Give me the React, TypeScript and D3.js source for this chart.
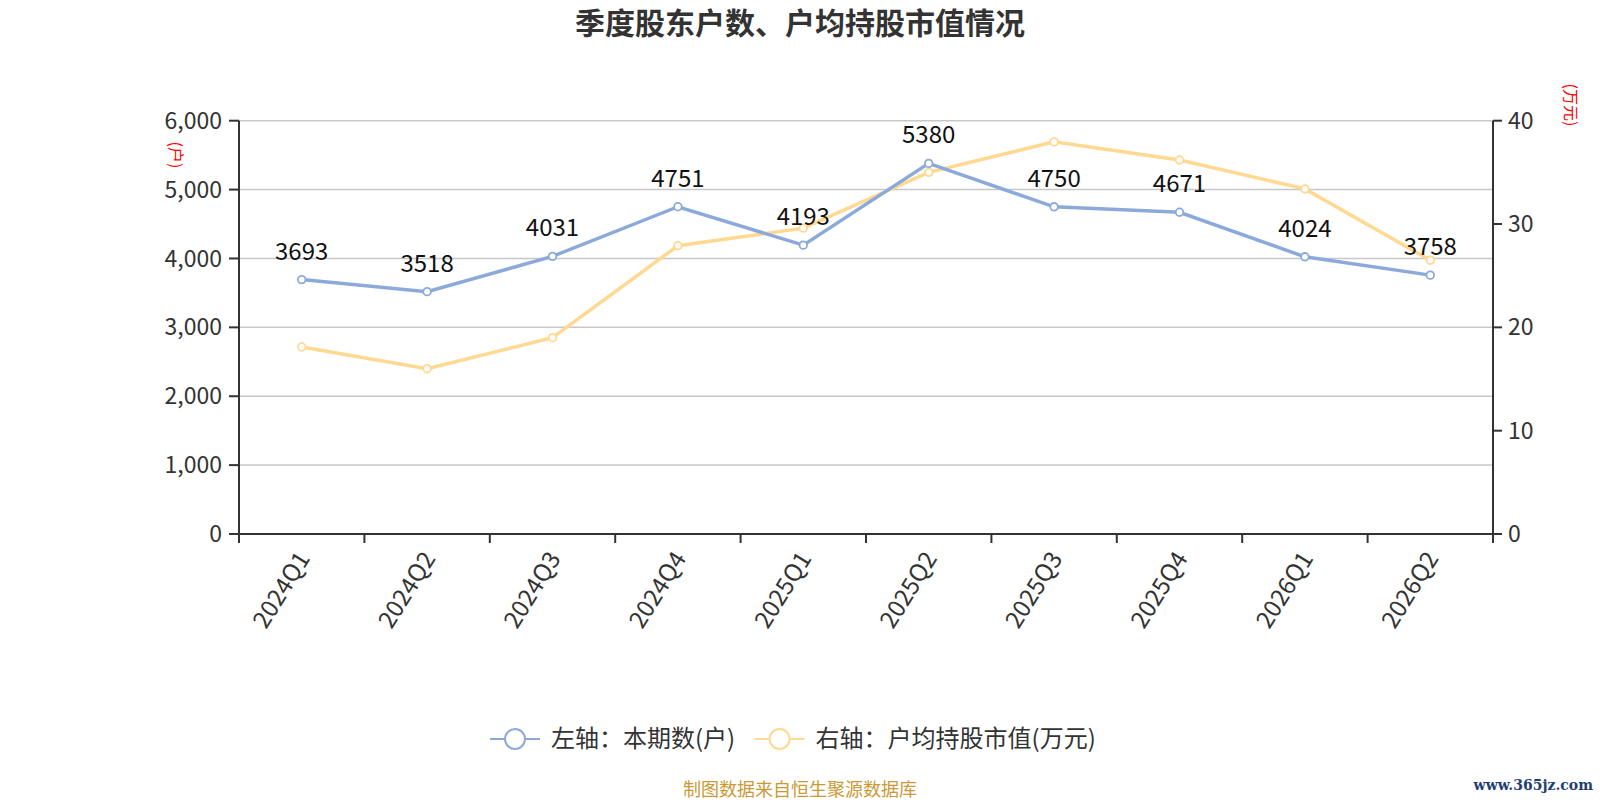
import { useEffect, useRef } from 'react';
import * as d3 from 'd3';

const quarters = ['2024Q1', '2024Q2', '2024Q3', '2024Q4', '2025Q1', '2025Q2', '2025Q3', '2025Q4', '2026Q1', '2026Q2'];
const holders = [3693, 3518, 4031, 4751, 4193, 5380, 4750, 4671, 4024, 3758];
const avgValue = [18.1, 16.0, 19.0, 27.9, 29.6, 35.0, 37.95, 36.2, 33.4, 26.5];
const leftTicks = [0, 1000, 2000, 3000, 4000, 5000, 6000];
const rightTicks = [0, 10, 20, 30, 40];
const legendItems = ['左轴：本期数(户)', '右轴：户均持股市值(万元)'];

const W = 1600;
const H = 800;
const BLUE = '#8caad9';
const YELLOW = '#ffd991';
const AXIS = '#333';
const FONT = '"Noto Sans CJK SC", "Noto Sans", sans-serif';

export default function App() {
  const svgRef = useRef<SVGSVGElement>(null);

  useEffect(() => {
    const svg = d3.select(svgRef.current);
    svg.selectAll('*').remove();

    const left = 239;
    const right = 1493;
    const top = 120.7;
    const bottom = 534;

    const x = d3.scaleBand<string>().domain(quarters).range([left, right]).padding(0);
    const cx = (q: string) => (x(q) ?? 0) + x.bandwidth() / 2;
    const yL = d3.scaleLinear().domain([0, 6000]).range([bottom, top]);
    const yR = d3.scaleLinear().domain([0, 40]).range([bottom, top]);

    // title
    svg
      .append('text')
      .attr('x', W / 2)
      .attr('y', 34)
      .attr('text-anchor', 'middle')
      .attr('font-size', 30)
      .attr('font-weight', 'bold')
      .attr('fill', '#333')
      .text('季度股东户数、户均持股市值情况');

    // grid lines
    svg
      .append('g')
      .selectAll('line')
      .data(leftTicks.filter((t) => t > 0))
      .join('line')
      .attr('x1', left)
      .attr('x2', right)
      .attr('y1', (d) => yL(d))
      .attr('y2', (d) => yL(d))
      .attr('stroke', '#c8c8c8')
      .attr('stroke-width', 1.5);

    // left axis
    const gl = svg.append('g');
    gl.append('line').attr('x1', left).attr('x2', left).attr('y1', top).attr('y2', bottom + 9).attr('stroke', AXIS).attr('stroke-width', 2);
    gl.selectAll('line.t')
      .data(leftTicks)
      .join('line')
      .attr('class', 't')
      .attr('x1', left - 10)
      .attr('x2', left)
      .attr('y1', (d) => yL(d))
      .attr('y2', (d) => yL(d))
      .attr('stroke', AXIS)
      .attr('stroke-width', 2);
    gl.selectAll('text')
      .data(leftTicks)
      .join('text')
      .attr('x', left - 17)
      .attr('y', (d) => yL(d))
      .attr('dy', '0.35em')
      .attr('text-anchor', 'end')
      .attr('font-size', 23)
      .attr('fill', '#333')
      .text((d) => d3.format(',')(d));

    // right axis
    const gr = svg.append('g');
    gr.append('line').attr('x1', right).attr('x2', right).attr('y1', top).attr('y2', bottom + 9).attr('stroke', AXIS).attr('stroke-width', 2);
    gr.selectAll('line.t')
      .data(rightTicks)
      .join('line')
      .attr('class', 't')
      .attr('x1', right)
      .attr('x2', right + 9)
      .attr('y1', (d) => yR(d))
      .attr('y2', (d) => yR(d))
      .attr('stroke', AXIS)
      .attr('stroke-width', 2);
    gr.selectAll('text')
      .data(rightTicks)
      .join('text')
      .attr('x', right + 15)
      .attr('y', (d) => yR(d))
      .attr('dy', '0.35em')
      .attr('font-size', 23)
      .attr('fill', '#333')
      .text((d) => String(d));

    // axis units
    svg
      .append('text')
      .attr('transform', 'translate(170,155) rotate(90)')
      .attr('text-anchor', 'middle')
      .attr('font-size', 16)
      .attr('fill', 'red')
      .text('(户)');
    svg
      .append('text')
      .attr('transform', 'translate(1565,105) rotate(90)')
      .attr('text-anchor', 'middle')
      .attr('font-size', 16)
      .attr('fill', 'red')
      .text('(万元)');

    // x axis
    const gx = svg.append('g');
    gx.append('line').attr('x1', left).attr('x2', right).attr('y1', bottom).attr('y2', bottom).attr('stroke', AXIS).attr('stroke-width', 2);
    const bounds = quarters.map((q) => x(q) ?? 0).concat([right]);
    gx.selectAll('line.t')
      .data(bounds)
      .join('line')
      .attr('class', 't')
      .attr('x1', (d) => d)
      .attr('x2', (d) => d)
      .attr('y1', bottom)
      .attr('y2', bottom + 9)
      .attr('stroke', AXIS)
      .attr('stroke-width', 2);
    gx.selectAll('text')
      .data(quarters)
      .join('text')
      .attr('transform', (d) => `translate(${cx(d) + 2},${bottom + 20}) rotate(-58)`)
      .attr('text-anchor', 'end')
      .attr('dy', '0.35em')
      .attr('font-size', 24)
      .attr('fill', '#333')
      .text((d) => d);

    // lines
    const lineL = d3
      .line<number>()
      .x((_, i) => cx(quarters[i]))
      .y((d) => yL(d));
    const lineR = d3
      .line<number>()
      .x((_, i) => cx(quarters[i]))
      .y((d) => yR(d));

    svg.append('path').datum(avgValue).attr('d', lineR).attr('fill', 'none').attr('stroke', YELLOW).attr('stroke-width', 3.5);
    svg
      .append('g')
      .selectAll('circle')
      .data(avgValue)
      .join('circle')
      .attr('cx', (_, i) => cx(quarters[i]))
      .attr('cy', (d) => yR(d))
      .attr('r', 3.8)
      .attr('fill', '#fff')
      .attr('stroke', YELLOW)
      .attr('stroke-width', 1.8);

    svg.append('path').datum(holders).attr('d', lineL).attr('fill', 'none').attr('stroke', BLUE).attr('stroke-width', 3.5);
    svg
      .append('g')
      .selectAll('circle')
      .data(holders)
      .join('circle')
      .attr('cx', (_, i) => cx(quarters[i]))
      .attr('cy', (d) => yL(d))
      .attr('r', 3.8)
      .attr('fill', '#fff')
      .attr('stroke', BLUE)
      .attr('stroke-width', 1.8);

    // data labels
    svg
      .append('g')
      .selectAll('text')
      .data(holders)
      .join('text')
      .attr('x', (_, i) => cx(quarters[i]))
      .attr('y', (d) => yL(d) - 20)
      .attr('text-anchor', 'middle')
      .attr('font-size', 24)
      .attr('fill', '#111')
      .text((d) => String(d));

    // legend
    const legendX = [490, 754.6];
    const colors = [BLUE, YELLOW];
    const lg = svg.append('g');
    legendItems.forEach((label, i) => {
      const lx = legendX[i];
      const ly = 739;
      lg.append('line').attr('x1', lx).attr('x2', lx + 50).attr('y1', ly).attr('y2', ly).attr('stroke', colors[i]).attr('stroke-width', 2);
      lg.append('circle').attr('cx', lx + 25).attr('cy', ly).attr('r', 10).attr('fill', '#fff').attr('stroke', colors[i]).attr('stroke-width', 2);
      lg.append('text')
        .attr('x', lx + 61)
        .attr('y', ly)
        .attr('dy', '0.35em')
        .attr('font-size', 24)
        .attr('fill', '#333')
        .text(label);
    });

    // source note
    svg
      .append('text')
      .attr('x', 800)
      .attr('y', 790)
      .attr('dy', '0.35em')
      .attr('text-anchor', 'middle')
      .attr('font-size', 18)
      .attr('fill', '#c99a35')
      .text('制图数据来自恒生聚源数据库');

    svg
      .append('text')
      .attr('x', 1593)
      .attr('y', 790)
      .attr('text-anchor', 'end')
      .attr('font-size', 14)
      .attr('font-family', '"DejaVu Serif", serif')
      .attr('font-weight', 'bold')
      .attr('fill', '#1f3f73')
      .text('www.365jz.com');
  }, []);

  return (
    <svg
      ref={svgRef}
      width={W}
      height={H}
      style={{ position: 'absolute', left: 0, top: 0, background: '#fff', fontFamily: FONT }}
    />
  );
}
